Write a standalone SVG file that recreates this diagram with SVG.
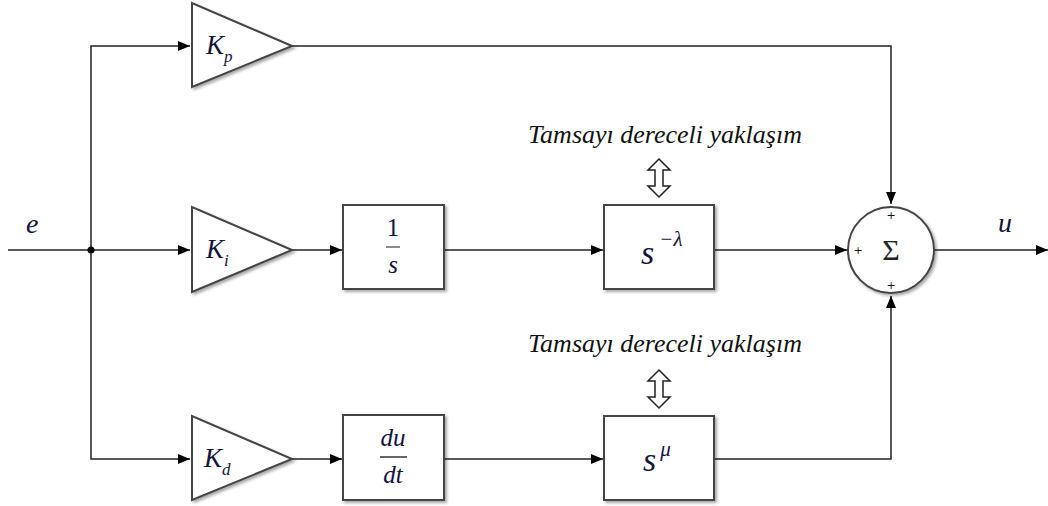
<svg xmlns="http://www.w3.org/2000/svg" width="1048" height="506" viewBox="0 0 1048 506">
<defs>
<marker id="arr" markerWidth="12" markerHeight="10" refX="12" refY="5" orient="auto" markerUnits="userSpaceOnUse">
<path d="M0,0 L12,5 L0,10 Z" fill="#000"/>
</marker>
<filter id="sh" x="-10%" y="-10%" width="130%" height="130%">
<feGaussianBlur in="SourceAlpha" stdDeviation="1.5"/>
<feOffset dx="2" dy="2" result="b"/>
<feComponentTransfer><feFuncA type="linear" slope="0.35"/></feComponentTransfer>
<feMerge><feMergeNode/><feMergeNode in="SourceGraphic"/></feMerge>
</filter>
</defs>
<style>
.blk{fill:#fff;stroke:#444;stroke-width:2}
.ln{fill:none;stroke:#222;stroke-width:1.5}
.m{font-style:italic;fill:#14143c}
.t{font-style:italic;fill:#111;font-size:26px}
.dbl{fill:#fff;stroke:#222;stroke-width:1.5}
</style>
<rect width="1048" height="506" fill="#fff"/>
<g id="connectors">
<line class="ln" x1="8" y1="250" x2="190" y2="250" marker-end="url(#arr)"/>
<polyline class="ln" points="91,250 91,46 190,46" marker-end="url(#arr)"/>
<polyline class="ln" points="91,250 91,459 190,459" marker-end="url(#arr)"/>
<circle cx="91" cy="250" r="3.5" fill="#000"/>
<polyline class="ln" points="292,46 891,46 891,204" marker-end="url(#arr)"/>
<line class="ln" x1="292" y1="250" x2="342" y2="250" marker-end="url(#arr)"/>
<line class="ln" x1="444" y1="250" x2="603" y2="250" marker-end="url(#arr)"/>
<line class="ln" x1="714" y1="250" x2="847" y2="250" marker-end="url(#arr)"/>
<line class="ln" x1="934" y1="250" x2="1048" y2="250" marker-end="url(#arr)"/>
<line class="ln" x1="292" y1="459" x2="342" y2="459" marker-end="url(#arr)"/>
<line class="ln" x1="444" y1="459" x2="603" y2="459" marker-end="url(#arr)"/>
<polyline class="ln" points="714,459 891,459 891,296" marker-end="url(#arr)"/>
</g>
<g font-family="Liberation Serif, 'Times New Roman', serif">
<g id="Kp">
<polygon class="blk" filter="url(#sh)" points="192,3 192,87 292,46"/>
<text class="m" x="206" y="54" font-size="27">K<tspan font-size="17" dy="8">p</tspan></text>
</g>
<g id="Ki">
<polygon class="blk" filter="url(#sh)" points="192,207 192,292 292,250"/>
<text class="m" x="206" y="258" font-size="27">K<tspan font-size="17" dy="8">i</tspan></text>
</g>
<g id="Kd">
<polygon class="blk" filter="url(#sh)" points="192,416 192,500 292,459"/>
<text class="m" x="204" y="467" font-size="27">K<tspan font-size="17" dy="8">d</tspan></text>
</g>
<g id="integrator">
<rect class="blk" filter="url(#sh)" x="343" y="205" width="101" height="84"/>
<text x="393" y="236" font-size="25" fill="#14143c" text-anchor="middle">1</text>
<line x1="386" y1="247" x2="400" y2="247" stroke="#666" stroke-width="1.5"/>
<text class="m" x="393" y="273" font-size="25" text-anchor="middle">s</text>
</g>
<g id="frac_int">
<rect class="blk" filter="url(#sh)" x="604" y="205" width="110" height="84"/>
<text class="m" x="641" y="264" font-size="34">s<tspan font-size="21" dy="-18" dx="5">−λ</tspan></text>
</g>
<g id="derivative">
<rect class="blk" filter="url(#sh)" x="343" y="415" width="101" height="85"/>
<text class="m" x="393" y="446" font-size="25" text-anchor="middle">du</text>
<line x1="380" y1="457" x2="407" y2="457" stroke="#333" stroke-width="1.5"/>
<text class="m" x="393" y="483" font-size="25" text-anchor="middle">dt</text>
</g>
<g id="frac_der">
<rect class="blk" filter="url(#sh)" x="604" y="416" width="110" height="84"/>
<text class="m" x="643" y="471" font-size="34">s<tspan font-size="21" dy="-15" dx="4">μ</tspan></text>
</g>
<g id="sum">
<circle cx="891" cy="250" r="43" class="blk" filter="url(#sh)"/>
<text x="891" y="260" font-size="30" fill="#222" text-anchor="middle">Σ</text>
<text x="891" y="219" font-family="DejaVu Sans, sans-serif" font-size="11" fill="#111" text-anchor="middle">+</text>
<text x="858" y="254" font-family="DejaVu Sans, sans-serif" font-size="11" fill="#111" text-anchor="middle">+</text>
<text x="891" y="289" font-family="DejaVu Sans, sans-serif" font-size="11" fill="#111" text-anchor="middle">+</text>
</g>
<g id="labels">
<text class="m" x="26" y="233" font-size="28">e</text>
<text class="m" x="998" y="232" font-size="28">u</text>
</g>
<g id="approx_top">
<text class="t" x="665" y="143" text-anchor="middle">Tamsayı dereceli yaklaşım</text>
<path class="dbl" d="M659,159 L670,170 L663,170 L663,186 L670,186 L659,197 L648,186 L655,186 L655,170 L648,170 Z"/>
</g>
<g id="approx_bottom">
<text class="t" x="665" y="352" text-anchor="middle">Tamsayı dereceli yaklaşım</text>
<path class="dbl" d="M659,370 L670,381 L663,381 L663,397 L670,397 L659,408 L648,397 L655,397 L655,381 L648,381 Z"/>
</g>
</g>
</svg>
